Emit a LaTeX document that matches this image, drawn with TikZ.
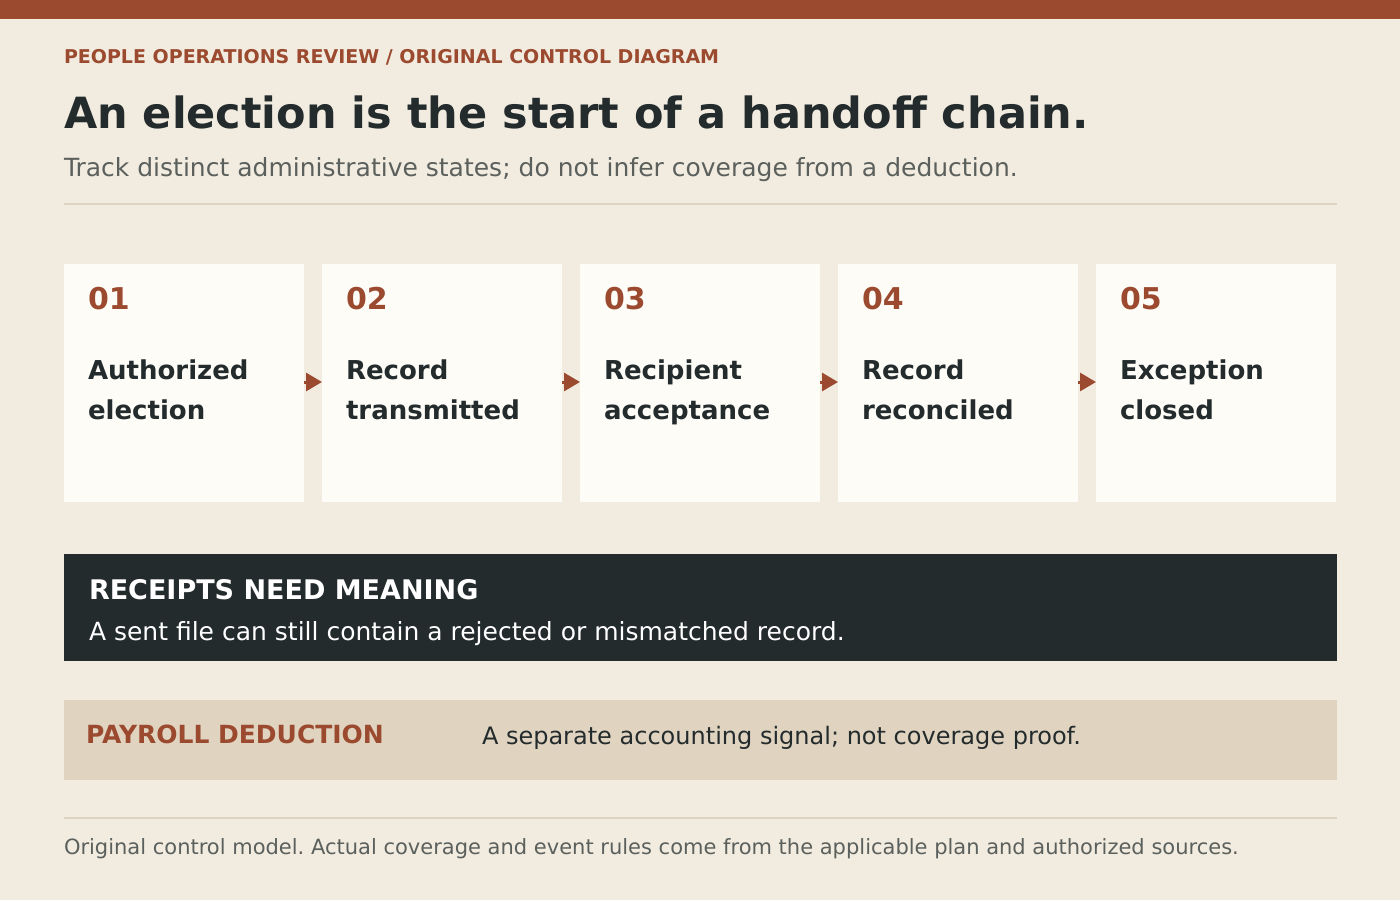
\documentclass[tikz,border=0pt]{standalone}
\usepackage{fontspec}
\setmainfont{DejaVu Sans}
\usetikzlibrary{arrows.meta}
\frenchspacing
\definecolor{rust}{HTML}{9B4A2F}
\definecolor{ink}{HTML}{232B2D}
\definecolor{paper}{HTML}{F2ECE0}
\definecolor{card}{HTML}{FDFCF7}
\definecolor{sand}{HTML}{E0D4C0}
\definecolor{rulec}{HTML}{DDD3C0}
\definecolor{muted}{HTML}{5B605D}
\tikzset{
  txt/.style={inner sep=0pt, outer sep=0pt, anchor=base west},
  stepcard/.style={rectangle, fill=card, draw=none, minimum width=240pt, minimum height=238pt, inner sep=0pt, outer sep=0pt, anchor=north west},
  numtxt/.style={txt, text=rust, font=\fontsize{30}{32}\selectfont\bfseries},
  labtxt/.style={txt, text=ink, font=\fontsize{26}{30}\selectfont\bfseries},
  flow/.style={draw=rust, line width=3pt, -{Triangle[length=16pt,width=18pt]}, shorten >=0pt},
}
\begin{document}
\frenchspacing
\begin{tikzpicture}[x=1pt,y=-1pt]
\useasboundingbox (0,0) rectangle (1400,900);
\fill[paper] (0,0) rectangle (1400,900);
\fill[rust] (0,0) rectangle (1400,19);
\node[txt, text=rust, font=\fontsize{19}{22}\selectfont\bfseries] (kicker) at (64,63) {PEOPLE OPERATIONS REVIEW / ORIGINAL CONTROL DIAGRAM};
\node[txt, text=ink, font=\fontsize{43}{50}\selectfont\bfseries] (title) at (64,128) {An election is the start of a handoff chain.};
\node[txt, text=muted, font=\fontsize{25}{28}\selectfont] (sub) at (64,176) {Track distinct administrative states; do not infer coverage from a deduction.};
\draw[rulec, line width=2pt] (64,204) -- (1337,204);
% cards
\foreach \i/\x/\n/\a/\b in {1/64/01/Authorized/election, 2/322/02/Record/transmitted, 3/580/03/Recipient/acceptance, 4/838/04/Record/reconciled, 5/1096/05/Exception/closed}{
  \node[stepcard] (c\i) at (\x,264) {};
  \node[numtxt] (n\i) at (\x+24,309) {\n};
  \node[labtxt] (la\i) at (\x+24,379) {\a};
  \node[labtxt] (lb\i) at (\x+24,419) {\b};
}
\foreach \i/\j in {1/2,2/3,3/4,4/5}{
  \draw[flow] ([yshift=1pt]c\i.east) -- ([yshift=1pt]c\j.west);
}
% dark banner
\node[rectangle, fill=ink, minimum width=1273pt, minimum height=107pt, inner sep=0pt, anchor=north west] (banner) at (64,554) {};
\node[txt, text=white, font=\fontsize{27}{30}\selectfont\bfseries] (bt) at (89,599) {RECEIPTS NEED MEANING};
\node[txt, text=white, font=\fontsize{25}{28}\selectfont] (bs) at (89,640) {A sent file can still contain a rejected or mismatched record.};
% payroll strip
\node[rectangle, fill=sand, minimum width=1273pt, minimum height=80pt, inner sep=0pt, anchor=north west] (strip) at (64,700) {};
\node[txt, text=rust, font=\fontsize{25}{28}\selectfont\bfseries] (pt) at (86,743) {PAYROLL DEDUCTION};
\node[txt, text=ink, font=\fontsize{24}{28}\selectfont] (ps) at (482,744) {A separate accounting signal; not coverage proof.};
\draw[rulec, line width=2pt] (64,818) -- (1337,818);
\node[txt, text=muted, font=\fontsize{21}{24}\selectfont] (foot) at (64,854) {Original control model. Actual coverage and event rules come from the applicable plan and authorized sources.};
\end{tikzpicture}
\end{document}
